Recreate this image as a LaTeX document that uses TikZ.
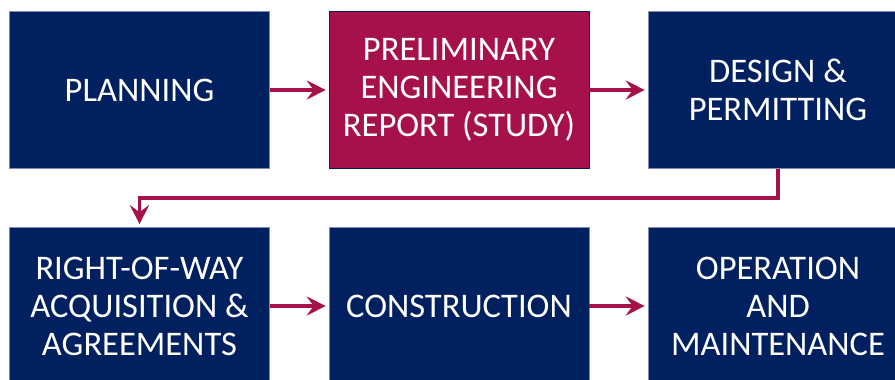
\documentclass[tikz,border=0pt]{standalone}
\usepackage{fontspec}
\setmainfont{Carlito}
\usetikzlibrary{arrows.meta}
\definecolor{navy}{HTML}{002060}
\definecolor{navyedge}{HTML}{7F8CB0}
\definecolor{crimson}{HTML}{A7114B}
\begin{document}
\begin{tikzpicture}[x=1pt,y=1pt,
  stage/.style={rectangle, fill=navy, draw=navyedge, line width=0.6pt,
    minimum width=260pt, minimum height=157pt, inner sep=0pt,
    text=white, align=center,
    font=\fontsize{34.5}{38}\selectfont},
  hilite/.style={stage, fill=crimson, draw=navy},
  flow/.style={draw=crimson, line width=3.4pt,
    -{Stealth[length=19pt, width=19pt, inset=7pt]}, shorten >=3pt}]
  \useasboundingbox (0,0) rectangle (895,380);
  \clip (0,0) rectangle (895,380);
  \fill[white] (0,0) rectangle (895,380);

  % top row
  \node[stage]  (plan)   at (139.5,290) {PLANNING};
  \node[hilite] (study)  at (459,290)   {PRELIMINARY\\ENGINEERING\\REPORT (STUDY)};
  \node[stage]  (design) at (778,290)   {DESIGN \&\\PERMITTING};

  % bottom row
  \node[stage]  (row)    at (139.5,74)  {RIGHT-OF-WAY\\ACQUISITION \&\\AGREEMENTS};
  \node[stage]  (build)  at (459,74)    {CONSTRUCTION};
  \node[stage]  (operate) at (778,74)   {OPERATION\\AND\\MAINTENANCE};

  % connectors
  \coordinate (turn) at (0,182);
  \draw[flow] (plan.east) -- (study.west);
  \draw[flow] (study.east) -- (design.west);
  \draw[flow, shorten <=0pt] (design.south) -- (design.south |- turn) -| (row.north);
  \draw[flow] (row.east) -- (build.west);
  \draw[flow] (build.east) -- (operate.west);
\end{tikzpicture}
\end{document}
